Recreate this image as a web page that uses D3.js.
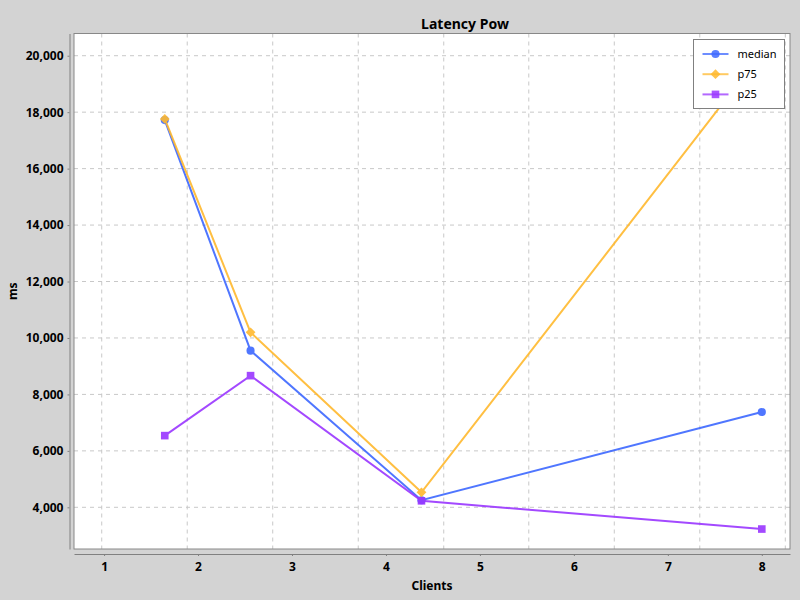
<!DOCTYPE html>
<html>
<head>
<meta charset="utf-8">
<script src="https://cdn.jsdelivr.net/npm/d3@7"></script>
<style>
  body { margin: 0; background: #d3d3d3; }
  svg { display: block; font-family: "Noto Sans", sans-serif; }
</style>
</head>
<body>
<div id="chart"></div>
<script>
const width = 800;
const height = 600;

// clients on x
const clients = [1.646, 2.559, 4.378, 8];
const median = [17720, 9550, 4250, 7375];
const p75 = [17760, 10200, 4530, 20100];
const p25 = [6540, 8665, 4230, 3230];

const xTicks = [1, 2, 3, 4, 5, 6, 7, 8];
const yTicks = [4000, 6000, 8000, 10000, 12000, 14000, 16000, 18000, 20000];
// vertical grid lines do not sit on the x ticks in the original
const xGrid = [0.975, 1.885, 2.795, 3.705, 4.615, 5.52, 6.43, 7.34, 8.25];

const seriesNames = ["median", "p75", "p25"];
const seriesValues = [median, p75, p25];
const seriesColors = ["#3d68ff", "#ffb92e", "#9a36ff"];
// diamond = square turned 45deg
const seriesShapes = [d3.symbolCircle, d3.symbolSquare, d3.symbolSquare];
const seriesTurn = [0, 45, 0];
const seriesSizes = [52, 48, 58];

const plot = { left: 74, right: 790, top: 33.5, bottom: 549 };

const svg = d3.select("#chart").append("svg")
    .attr("width", width)
    .attr("height", height);

const xScale = d3.scaleLinear()
    .domain([0.68, 8.3])
    .range([plot.left, plot.right]);

const yScale = d3.scaleLinear()
    .domain([2523, 20787])
    .range([plot.bottom, plot.top]);

// plot background
svg.append("rect")
    .attr("x", plot.left)
    .attr("y", plot.top)
    .attr("width", plot.right - plot.left)
    .attr("height", plot.bottom - plot.top)
    .attr("fill", "#fff");

// grid
svg.append("g").selectAll("line")
    .data(xGrid)
    .join("line")
    .attr("x1", d => xScale(d)).attr("x2", d => xScale(d))
    .attr("y1", plot.top).attr("y2", plot.bottom)
    .attr("stroke", "#c8c8c8")
    .attr("stroke-dasharray", "4,4");

svg.append("g").selectAll("line")
    .data(yTicks)
    .join("line")
    .attr("x1", plot.left).attr("x2", plot.right)
    .attr("y1", d => yScale(d)).attr("y2", d => yScale(d))
    .attr("stroke", "#c8c8c8")
    .attr("stroke-dasharray", "4,4");

// plot outline
svg.append("rect")
    .attr("x", plot.left)
    .attr("y", plot.top)
    .attr("width", plot.right - plot.left)
    .attr("height", plot.bottom - plot.top)
    .attr("fill", "none")
    .attr("stroke", "#888");

// axes
const axisx = d3.axisBottom(xScale)
    .tickValues(xTicks)
    .tickSizeInner(2)
    .tickSizeOuter(0)
    .tickPadding(6)
    .tickFormat(d3.format("d"));

const axisy = d3.axisLeft(yScale)
    .tickValues(yTicks)
    .tickSizeInner(2)
    .tickSizeOuter(0)
    .tickPadding(4)
    .tickFormat(d3.format(","));

const gx = svg.append("g")
    .attr("transform", "translate(0," + (plot.bottom + 5) + ")")
    .call(axisx);

const gy = svg.append("g")
    .attr("transform", "translate(" + (plot.left - 4.5) + ",0)")
    .call(axisy);

[gx, gy].forEach(g => {
    g.select(".domain").attr("stroke", "#808080");
    g.selectAll(".tick line").attr("stroke", "#808080");
    g.selectAll(".tick text")
        .attr("fill", "#000")
        .attr("font-family", "Noto Sans")
        .attr("font-weight", "bold")
        .attr("font-size", 12);
});

// titles
svg.append("text")
    .attr("x", 465)
    .attr("y", 29)
    .attr("text-anchor", "middle")
    .attr("font-weight", "bold")
    .attr("font-size", 14)
    .text("Latency Pow");

svg.append("text")
    .attr("x", (plot.left + plot.right) / 2)
    .attr("y", 590)
    .attr("text-anchor", "middle")
    .attr("font-weight", "bold")
    .attr("font-size", 12)
    .text("Clients");

svg.append("text")
    .attr("transform", "translate(17," + ((plot.top + plot.bottom) / 2) + ") rotate(-90)")
    .attr("text-anchor", "middle")
    .attr("font-weight", "bold")
    .attr("font-size", 12)
    .text("ms");

// series
const line = d3.line()
    .x(d => xScale(d[0]))
    .y(d => yScale(d[1]));

const chartArea = svg.append("g");

seriesValues.forEach((values, i) => {
    const pts = values.map((v, j) => [clients[j], v]);
    const g = chartArea.append("g").attr("opacity", 0.9);
    g.append("path")
        .datum(pts)
        .attr("fill", "none")
        .attr("stroke", seriesColors[i])
        .attr("stroke-width", 2)
        .attr("d", line);
    g.selectAll("path.marker")
        .data(pts)
        .join("path")
        .attr("class", "marker")
        .attr("transform", d => "translate(" + xScale(d[0]) + "," + yScale(d[1]) + ") rotate(" + seriesTurn[i] + ")")
        .attr("d", d3.symbol().type(seriesShapes[i]).size(seriesSizes[i]))
        .attr("fill", seriesColors[i]);
});

// legend
const legend = svg.append("g").attr("transform", "translate(693.5,39.5)");
legend.append("rect")
    .attr("width", 91)
    .attr("height", 69)
    .attr("fill", "#fff")
    .attr("stroke", "#808080");

const item = legend.selectAll("g.item")
    .data(seriesNames)
    .join("g")
    .attr("class", "item")
    .attr("transform", (d, i) => "translate(0," + (14.5 + i * 20.2) + ")");

item.append("line")
    .attr("x1", 9).attr("x2", 35)
    .attr("stroke", (d, i) => seriesColors[i])
    .attr("stroke-width", 2)
    .attr("opacity", 0.75);

item.append("path")
    .attr("transform", (d, i) => "translate(22,0) rotate(" + seriesTurn[i] + ")")
    .attr("d", (d, i) => d3.symbol().type(seriesShapes[i]).size(seriesSizes[i])())
    .attr("fill", (d, i) => seriesColors[i])
    .attr("opacity", 0.85);

item.append("text")
    .attr("x", 44)
    .attr("dy", "0.35em")
    .attr("font-size", 11)
    .attr("fill", "#000")
    .text(d => d);
</script>
</body>
</html>
